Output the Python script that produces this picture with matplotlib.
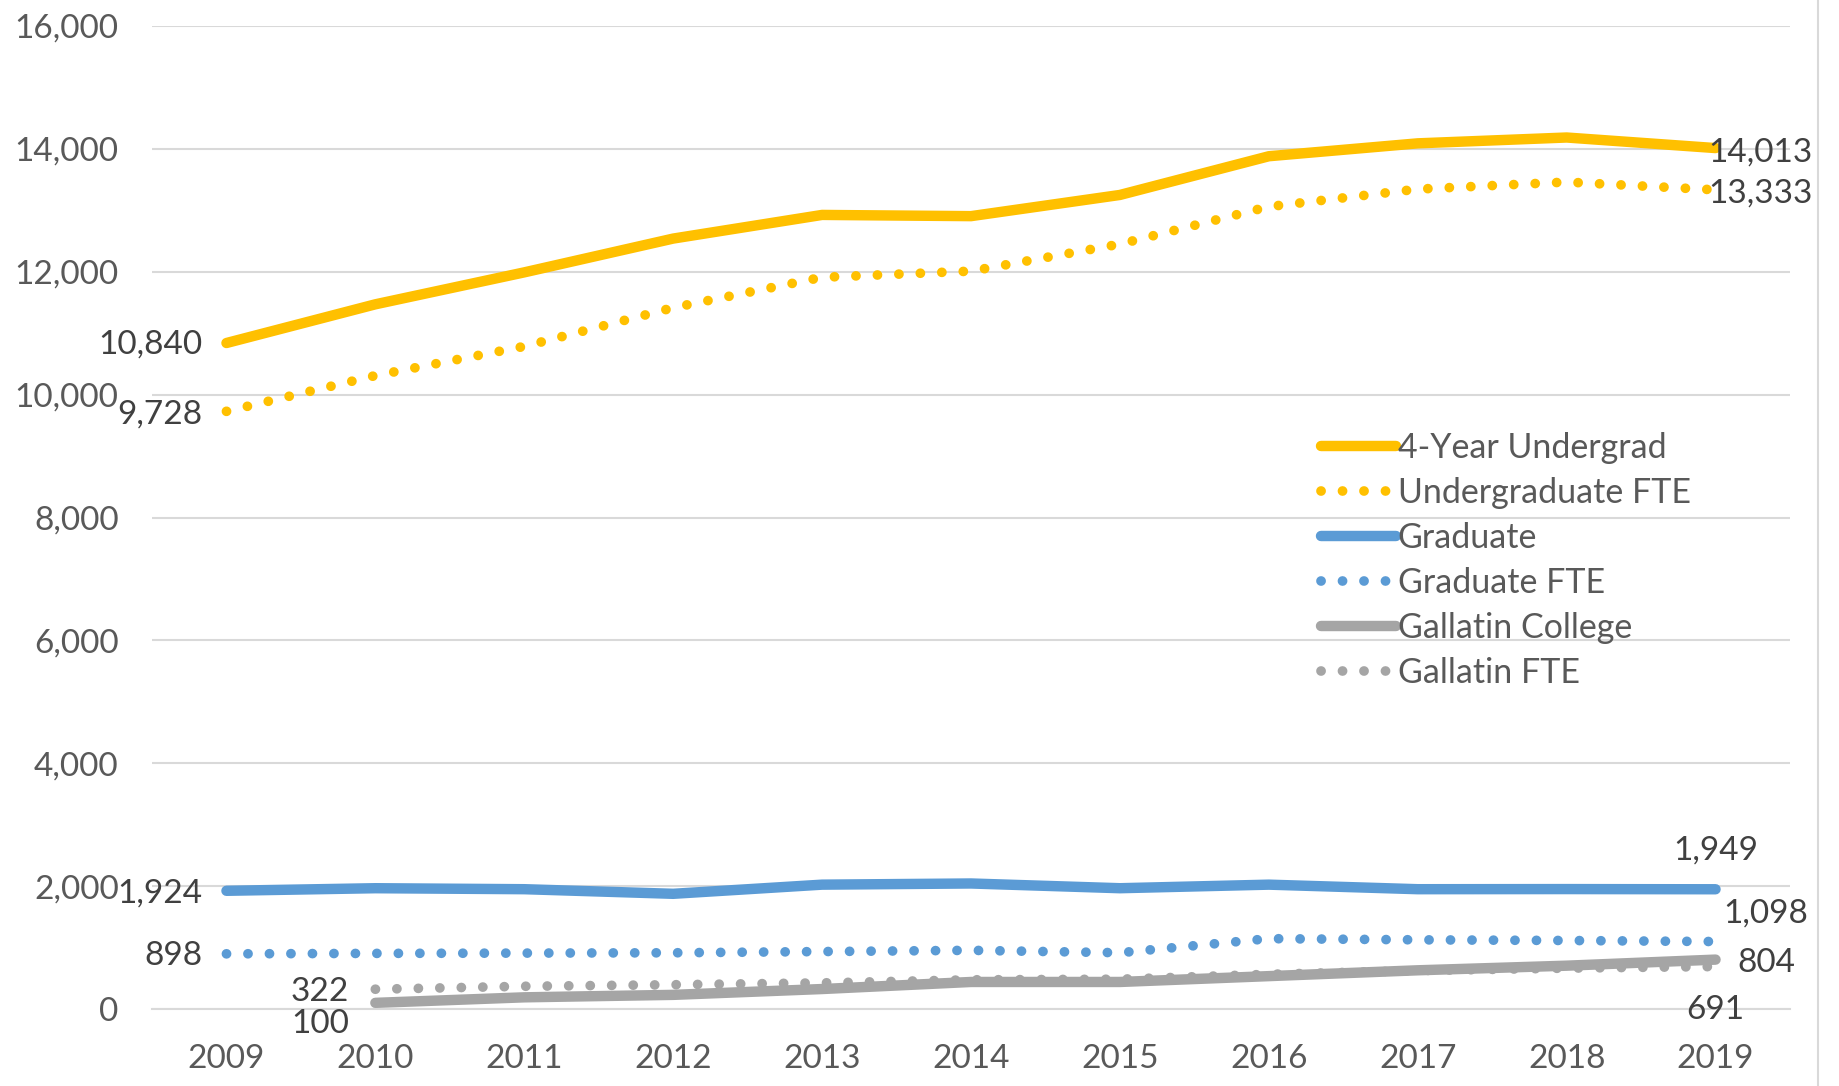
import numpy as np
import matplotlib
matplotlib.use("Agg")
import matplotlib.pyplot as plt
from matplotlib.lines import Line2D

years = ["2009", "2010", "2011", "2012", "2013", "2014", "2015", "2016", "2017", "2018", "2019"]

undergrad = [10840, 11470, 11990, 12540, 12925, 12905, 13250, 13880, 14090, 14185, 14013]
undergrad_fte = [9728, 10310, 10785, 11415, 11910, 12010, 12450, 13060, 13345, 13460, 13333]
graduate = [1924, 1966, 1950, 1875, 2024, 2043, 1966, 2024, 1950, 1952, 1949]
graduate_fte = [898, 905, 910, 915, 935, 955, 916, 1145, 1126, 1115, 1098]
gallatin = [np.nan, 100, 190, 230, 325, 440, 440, 535, 630, 705, 804]
gallatin_fte = [np.nan, 322, 370, 395, 425, 475, 485, 565, 625, 665, 691]

YELLOW = "#FFC000"
BLUE = "#5B9BD5"
GRAY = "#A5A5A5"
GRID = "#D9D9D9"
TICK_COL = "#595959"
LABEL_COL = "#404040"

num_font = ["Lato", "DejaVu Sans"]
leg_font = ["Lato", "DejaVu Sans"]

W, H = 1839, 1086
fig = plt.figure(figsize=(W / 100, H / 100), dpi=100)
ax = fig.add_axes([152 / W, 77 / H, (1790 - 152) / W, (1009 - 26) / H])

x = np.arange(len(years))
solid = dict(lw=7.5, solid_capstyle="round", solid_joinstyle="round")
dotted = dict(lw=7, linestyle=(0, (0.01, 2.2)), dash_capstyle="round")

ax.plot(x, undergrad, color=YELLOW, label="4-Year Undergrad", **solid)
ax.plot(x, undergrad_fte, color=YELLOW, label="Undergraduate FTE", **dotted)
ax.plot(x, graduate, color=BLUE, label="Graduate", **solid)
ax.plot(x, graduate_fte, color=BLUE, label="Graduate FTE", **dotted)
ax.plot(x, gallatin, color=GRAY, label="Gallatin College", **solid)
ax.plot(x, gallatin_fte, color=GRAY, label="Gallatin FTE", **dotted)

ax.set_xlim(-0.5, len(years) - 0.5)
ax.set_ylim(0, 16000)
ax.set_yticks(range(0, 16001, 2000))
ax.set_yticklabels([f"{v:,}" for v in range(0, 16001, 2000)])
ax.set_xticks(x)
ax.set_xticklabels(years)
ax.grid(axis="y", color=GRID, lw=1.5)
ax.set_axisbelow(True)
for s in ["top", "right", "left"]:
    ax.spines[s].set_visible(False)
ax.spines["bottom"].set_color(GRID)
ax.spines["bottom"].set_linewidth(1.5)
ax.tick_params(axis="both", length=0, colors=TICK_COL)
ax.tick_params(axis="y", pad=24)
ax.tick_params(axis="x", pad=25)
for t in ax.get_xticklabels() + ax.get_yticklabels():
    t.set_family(num_font)
    t.set_fontsize(24)


def label(i, series, dx, dy, ha):
    v = series[i]
    ax.annotate(f"{v:,}", (x[i], v), xytext=(dx, dy), textcoords="offset pixels",
                ha=ha, va="center", fontsize=24, family=num_font, color=LABEL_COL)


label(0, undergrad, -24, -2, "right")
label(0, undergrad_fte, -24, -3, "right")
label(0, graduate, -24, -3, "right")
label(0, graduate_fte, -24, -2, "right")
label(1, gallatin_fte, -26, -3, "right")
label(1, gallatin, -26, -21, "right")
label(10, undergrad, -7, -4, "left")
label(10, undergrad_fte, -7, -4, "left")
label(10, graduate, 0, 39, "center")
label(10, graduate_fte, 8, 28, "left")
label(10, gallatin, 22, -3, "left")
label(10, gallatin_fte, 0, -43, "center")

ax.legend(loc="upper left", bbox_to_anchor=(1321 / W, 1 - 432 / H),
          bbox_transform=fig.transFigure, frameon=False, borderpad=0,
          borderaxespad=0, handlelength=2.2, handletextpad=0.05,
          labelspacing=0.38, prop={"family": leg_font, "size": 24.5},
          labelcolor=TICK_COL)

fig.add_artist(Line2D([1818 / W, 1818 / W], [0, 1], color=GRID, lw=1.5))

fig.savefig("out.png", dpi=100, facecolor="white")
